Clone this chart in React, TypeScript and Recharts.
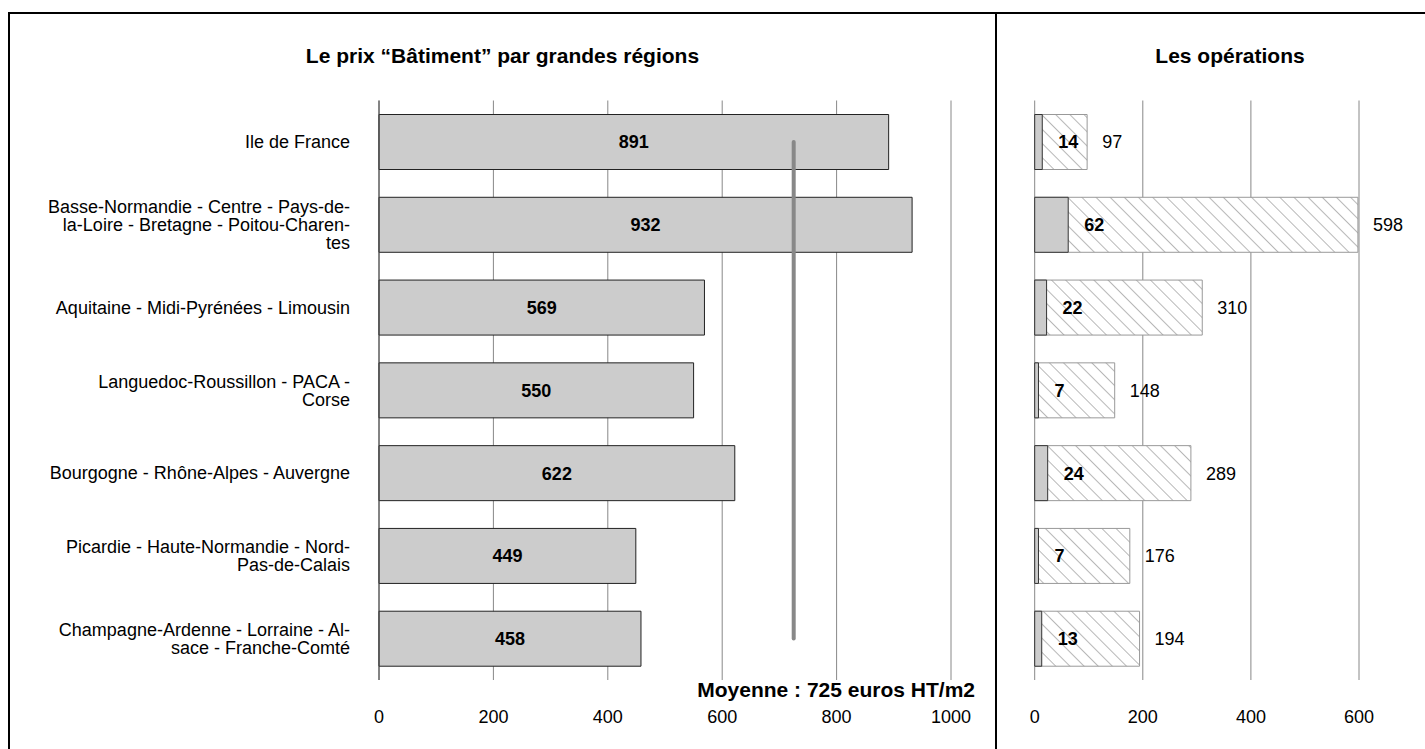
import { BarChart, Bar, XAxis, YAxis, CartesianGrid, LabelList, ReferenceLine } from 'recharts';

const regions = [
  'Ile de France',
  'Basse-Normandie - Centre - Pays-de-\nla-Loire - Bretagne - Poitou-Charen-\ntes',
  'Aquitaine - Midi-Pyrénées - Limousin',
  'Languedoc-Roussillon - PACA -\nCorse',
  'Bourgogne - Rhône-Alpes - Auvergne',
  'Picardie - Haute-Normandie - Nord-\nPas-de-Calais',
  'Champagne-Ardenne - Lorraine - Al-\nsace - Franche-Comté',
];
const prixBatiment = [891, 932, 569, 550, 622, 449, 458];
const operationsTotal = [97, 598, 310, 148, 289, 176, 194];
const operationsBatiment = [14, 62, 22, 7, 24, 7, 13];
const prixTicks = [0, 200, 400, 600, 800, 1000];
const opTicks = [0, 200, 400, 600];
const moyenne = 725;

const FONT = '"Liberation Sans", Arial, Helvetica, sans-serif';

const prixData = regions.map((region, i) => ({ region, prix: prixBatiment[i] }));
const opData = regions.map((region, i) => ({
  region,
  total: operationsTotal[i],
  bat: operationsBatiment[i],
}));

// category label, manual line breaks, right aligned
const RegionTick = ({ x, y, payload }: any) => {
  const lines = String(payload.value).split('\n');
  const lh = 18.3;
  return (
    <text x={x} y={y} textAnchor="end" fontSize={18} fontFamily={FONT} fill="#000">
      {lines.map((l, i) => (
        <tspan key={i} x={x} dy={i === 0 ? -((lines.length - 1) / 2) * lh + 6.4 : lh}>
          {l}
        </tspan>
      ))}
    </text>
  );
};

const tickStyle = { fill: '#000', fontSize: 18, fontFamily: FONT };

export default function App() {
  return (
    <div
      style={{
        position: 'absolute',
        left: 0,
        top: 0,
        width: 1425,
        height: 749,
        overflow: 'hidden',
        background: '#fff',
        fontFamily: FONT,
      }}
    >
      {/* frame */}
      <div
        style={{
          position: 'absolute',
          left: 8,
          top: 12,
          width: 1500,
          height: 800,
          border: '2px solid #000',
          boxSizing: 'border-box',
        }}
      />
      <div style={{ position: 'absolute', left: 995, top: 12, width: 2, height: 760, background: '#000' }} />

      <div
        style={{
          position: 'absolute',
          left: 9,
          width: 987,
          top: 45.7,
          lineHeight: '20px',
          textAlign: 'center',
          fontWeight: 'bold',
          fontSize: 21,
          whiteSpace: 'nowrap',
        }}
      >
        Le prix “Bâtiment” par grandes régions
      </div>
      <div
        style={{
          position: 'absolute',
          left: 1030,
          width: 400,
          top: 45.7,
          lineHeight: '20px',
          textAlign: 'center',
          fontWeight: 'bold',
          fontSize: 21,
          whiteSpace: 'nowrap',
        }}
      >
        Les opérations
      </div>

      <div style={{ position: 'absolute', left: 0, top: 0 }}>
        <BarChart
          width={997}
          height={749}
          data={prixData}
          layout="vertical"
          margin={{ top: 100.5, right: 46, left: 0, bottom: 39 }}
        >
          <CartesianGrid horizontal={false} stroke="#888" />
          <XAxis
            type="number"
            domain={[0, 1000]}
            ticks={prixTicks}
            axisLine={false}
            tickLine={false}
            tickSize={0}
            tickMargin={30}
            height={30}
            tick={tickStyle}
          />
          <YAxis
            type="category"
            dataKey="region"
            width={379}
            axisLine={{ stroke: '#444' }}
            tickLine={false}
            tickSize={0}
            tickMargin={29}
            tick={<RegionTick />}
            interval={0}
          />
          <Bar dataKey="prix" fill="#cccccc" stroke="#222" strokeWidth={1} barSize={55} isAnimationActive={false}>
            <LabelList
              dataKey="prix"
              position="center"
              style={{ fontWeight: 'bold', fontSize: 18, fontFamily: FONT, fill: '#000' }}
            />
          </Bar>
          <ReferenceLine
            segment={[
              { x: moyenne, y: regions[0] },
              { x: moyenne, y: regions[regions.length - 1] },
            ]}
            stroke="#888"
            strokeWidth={4}
            strokeLinecap="round"
          />
        </BarChart>
      </div>

      <div
        style={{
          position: 'absolute',
          right: 450,
          top: 679,
          lineHeight: '21px',
          fontWeight: 'bold',
          fontSize: 21,
          whiteSpace: 'nowrap',
        }}
      >
        Moyenne : {moyenne} euros HT/m2
      </div>

      <div style={{ position: 'absolute', left: 997, top: 0 }}>
        <BarChart
          width={428}
          height={749}
          data={opData}
          layout="vertical"
          barGap={-55}
          margin={{ top: 100.5, right: 66, left: 37.7, bottom: 39 }}
        >
          <defs>
            <pattern
              id="hatch"
              patternUnits="userSpaceOnUse"
              width={10}
              height={10}
              patternTransform="rotate(-45)"
            >
              <rect width={10} height={10} fill="#fff" />
              <line x1={0} y1={0} x2={0} y2={10} stroke="#888" strokeWidth={1.2} />
            </pattern>
          </defs>
          <CartesianGrid horizontal={false} stroke="#888" />
          <XAxis
            type="number"
            domain={[0, 600]}
            ticks={opTicks}
            axisLine={false}
            tickLine={false}
            tickSize={0}
            tickMargin={30}
            height={30}
            tick={tickStyle}
          />
          <YAxis type="category" dataKey="region" hide />
          <Bar dataKey="total" fill="url(#hatch)" stroke="#999" strokeWidth={1} barSize={55} isAnimationActive={false}>
            <LabelList
              dataKey="total"
              position="right"
              offset={15}
              style={{ fontSize: 18, fontFamily: FONT, fill: '#000' }}
            />
          </Bar>
          <Bar dataKey="bat" fill="#cccccc" stroke="#333" strokeWidth={1} barSize={55} isAnimationActive={false}>
            <LabelList
              dataKey="bat"
              position="right"
              offset={16}
              style={{ fontWeight: 'bold', fontSize: 18, fontFamily: FONT, fill: '#000' }}
            />
          </Bar>
        </BarChart>
      </div>
    </div>
  );
}
